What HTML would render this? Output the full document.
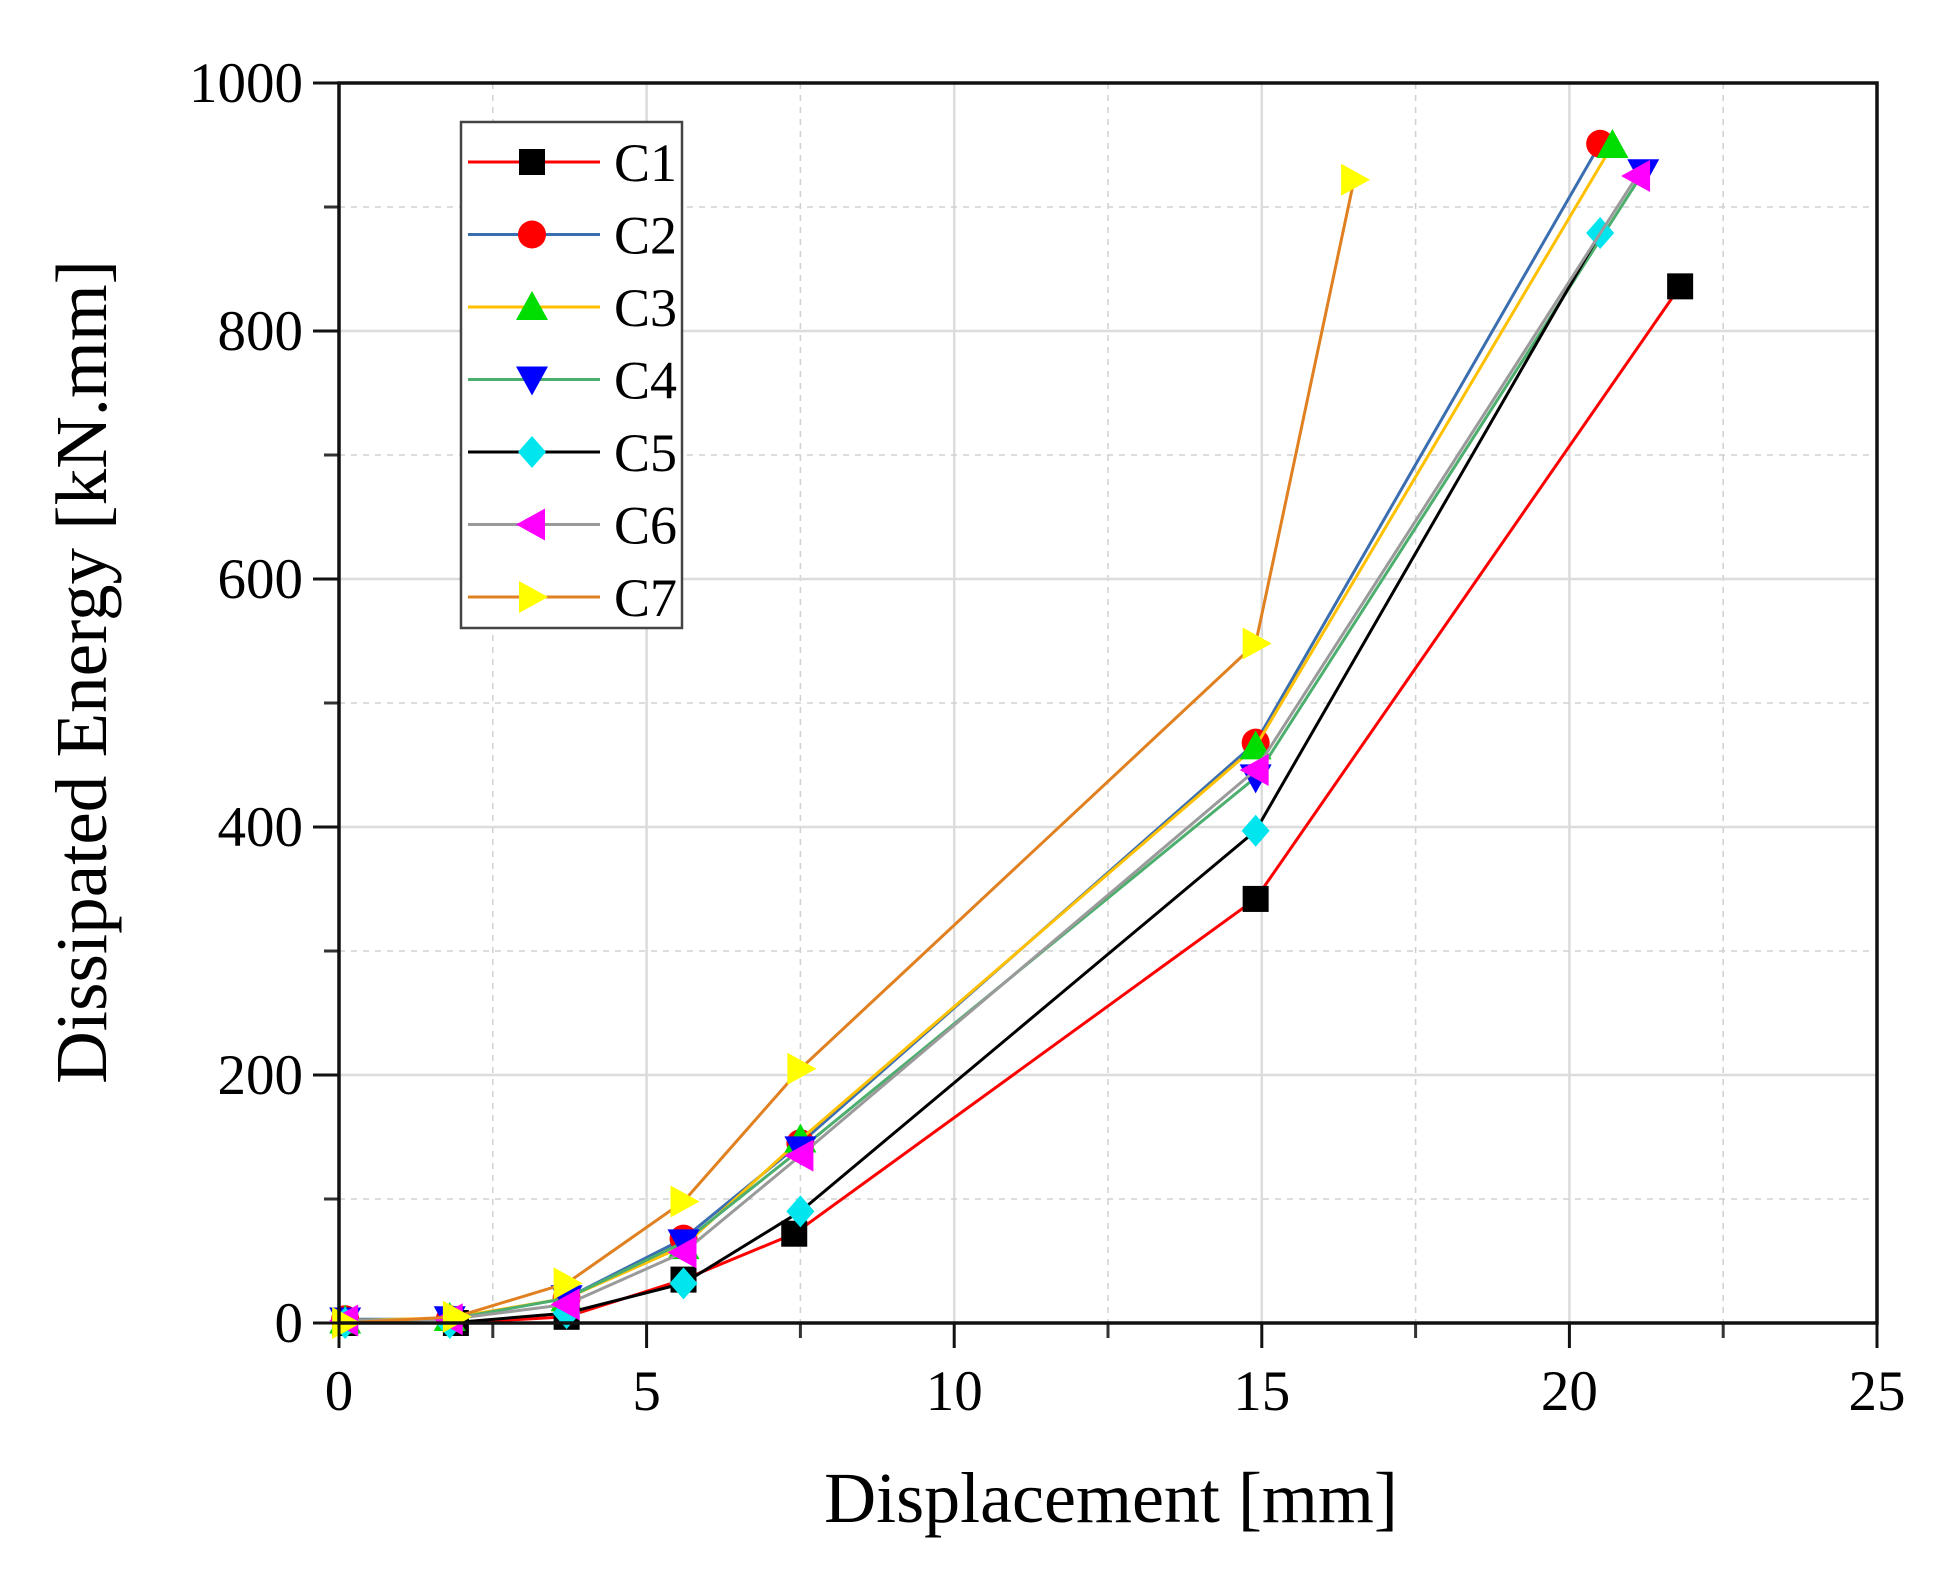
<!DOCTYPE html>
<html><head><meta charset="utf-8"><style>
html,body{margin:0;padding:0;background:#fff}
svg{display:block;font-family:"Liberation Serif",serif}
</style></head><body>
<svg id="chart" width="1941" height="1590" viewBox="0 0 1941 1590" xmlns="http://www.w3.org/2000/svg">
<g id="grid"></g>
<g id="series"></g>
<g id="axes"></g>
<g id="legend"></g>
<text x="1111" y="1522" font-size="72" text-anchor="middle">Displacement [mm]</text>
<text transform="translate(106,672) rotate(-90)" font-size="73" text-anchor="middle">Dissipated Energy [kN.mm]</text>
</svg>
<script>
const xTicks = [0,5,10,15,20,25];
const yTicks = [0,200,400,600,800,1000];
const seriesNames = ["C1","C2","C3","C4","C5","C6","C7"];
const xC1 = [0.1,1.9,3.7,5.6,7.4,14.9,21.8];
const yC1 = [0,0,5,35,72,342,836];
const xC2 = [0.1,1.8,3.7,5.6,7.5,14.9,20.5];
const yC2 = [3,3,20,68,145,468,951];
const xC3 = [0.1,1.8,3.7,5.6,7.5,14.9,20.7];
const yC3 = [2,4,20,62,148,465,950];
const xC4 = [0.1,1.8,3.7,5.6,7.5,14.9,21.2];
const yC4 = [2,3,20,65,140,440,928];
const xC5 = [0.1,1.8,3.7,5.6,7.5,14.9,20.5];
const yC5 = [0,0,8,32,90,397,879];
const xC6 = [0.1,1.8,3.7,5.6,7.5,14.9,21.1];
const yC6 = [2,3,15,57,135,446,925];
const xC7 = [0.1,1.9,3.7,5.6,7.5,14.9,16.5];
const yC7 = [0,5,32,98,205,548,922];

const X0=339,X1=1877,Y0=1323,Y1=83;
const sx=v=>X0+(v/25)*(X1-X0);
const sy=v=>Y0-(v/1000)*(Y0-Y1);
const NS="http://www.w3.org/2000/svg";
function mk(tag,attrs,parent){const e=document.createElementNS(NS,tag);for(const k in attrs)e.setAttribute(k,attrs[k]);parent.appendChild(e);return e;}
const grid=document.getElementById('grid'),axes=document.getElementById('axes'),sg=document.getElementById('series'),lg=document.getElementById('legend');

for(let i=0;i<xTicks.length;i++){
  const v=xTicks[i];
  if(v>0&&v<25){const l=mk('line',{x1:sx(v),x2:sx(v),y1:Y1,y2:Y0,stroke:'#dcdcdc','stroke-width':2.5},grid);
  }
  if(i<xTicks.length-1){const m=(v+xTicks[i+1])/2;const l=mk('line',{x1:sx(m),x2:sx(m),y1:Y1,y2:Y0,stroke:'#d0d0d0','stroke-width':1.5,'stroke-dasharray':'6,6'},grid);
  
  const t=mk('line',{x1:sx(m),x2:sx(m),y1:Y0,y2:Y0+15,stroke:'#333','stroke-width':3},axes);
  }
  const t=mk('line',{x1:sx(v),x2:sx(v),y1:Y0,y2:Y0+25,stroke:'#111','stroke-width':3},axes);
  
  const tx=mk('text',{x:sx(v),y:Y0+87,'font-size':57,'text-anchor':'middle'},axes);tx.textContent=v;
  
}
for(let i=0;i<yTicks.length;i++){
  const v=yTicks[i];
  if(v>0&&v<1000){const l=mk('line',{x1:X0,x2:X1,y1:sy(v),y2:sy(v),stroke:'#dcdcdc','stroke-width':2.5},grid);
  }
  if(i<yTicks.length-1){const m=(v+yTicks[i+1])/2;const l=mk('line',{x1:X0,x2:X1,y1:sy(m),y2:sy(m),stroke:'#d0d0d0','stroke-width':1.5,'stroke-dasharray':'6,6'},grid);
  
  const t=mk('line',{x1:X0-15,x2:X0,y1:sy(m),y2:sy(m),stroke:'#333','stroke-width':3},axes);
  }
  const t=mk('line',{x1:X0-26,x2:X0,y1:sy(v),y2:sy(v),stroke:'#111','stroke-width':3},axes);
  
  const tx=mk('text',{x:X0-36,y:sy(v)+19,'font-size':57,'text-anchor':'end'},axes);tx.textContent=v;
  
}
const fr=mk('rect',{x:X0,y:Y1,width:X1-X0,height:Y0-Y1,fill:'none',stroke:'#111','stroke-width':3.5},axes);


const lineColors=['#ff0000','#3a6eb0','#ffc000','#4daf6e','#000000','#9a9a9a','#e08020'];
const markColors=['#000000','#ff0000','#00dd00','#0000ff','#00e5ee','#ff00ff','#ffff00'];
const shapes=['square','circle','up','down','diamond','left','right'];
const XS=[xC1,xC2,xC3,xC4,xC5,xC6,xC7],YS=[yC1,yC2,yC3,yC4,yC5,yC6,yC7];
function marker(shape,x,y,c,p){
  const r=14;let e;
  if(shape==='square')e=mk('rect',{x:x-r+1,y:y-r+1,width:2*r-2,height:2*r-2,fill:c},p);
  else if(shape==='circle')e=mk('circle',{cx:x,cy:y,r:r,fill:c},p);
  else{let pts;
    if(shape==='up')pts=[[x,y-r-2],[x+r+2,y+r-1],[x-r-2,y+r-1]];
    else if(shape==='down')pts=[[x,y+r+2],[x+r+2,y-r+1],[x-r-2,y-r+1]];
    else if(shape==='left')pts=[[x-r-2,y],[x+r-1,y-r-2],[x+r-1,y+r+2]];
    else if(shape==='right')pts=[[x+r+2,y],[x-r+1,y-r-2],[x-r+1,y+r+2]];
    else pts=[[x,y-r-2],[x+r,y],[x,y+r+2],[x-r,y]];
    e=mk('polygon',{points:pts.map(q=>q.join(',')).join(' '),fill:c},p);}
  return e;
}
for(let s=0;s<7;s++){
  const g=mk('g',{},sg);
  
  
  const pts=XS[s].map((x,i)=>sx(x)+','+sy(YS[s][i])).join(' ');
  const pl=mk('polyline',{points:pts,fill:'none',stroke:lineColors[s],'stroke-width':3},g);
  
  
  for(let i=0;i<XS[s].length;i++){
    const m=marker(shapes[s],sx(XS[s][i]),sy(YS[s][i]),markColors[s],g);
    
    
  }
}
const lb=mk('rect',{x:461,y:122,width:221,height:506,fill:'#fff',stroke:'#444','stroke-width':2.5},lg);

for(let s=0;s<7;s++){
  const y=162+s*72.5;
  const g=mk('g',{},lg);
  
  
  mk('line',{x1:468,x2:600,y1:y,y2:y,stroke:lineColors[s],'stroke-width':3},g);
  marker(shapes[s],532,y,markColors[s],g);
  const t=mk('text',{x:614,y:y+19,'font-size':54},g);t.textContent=seriesNames[s];
}
</script>
</body></html>
